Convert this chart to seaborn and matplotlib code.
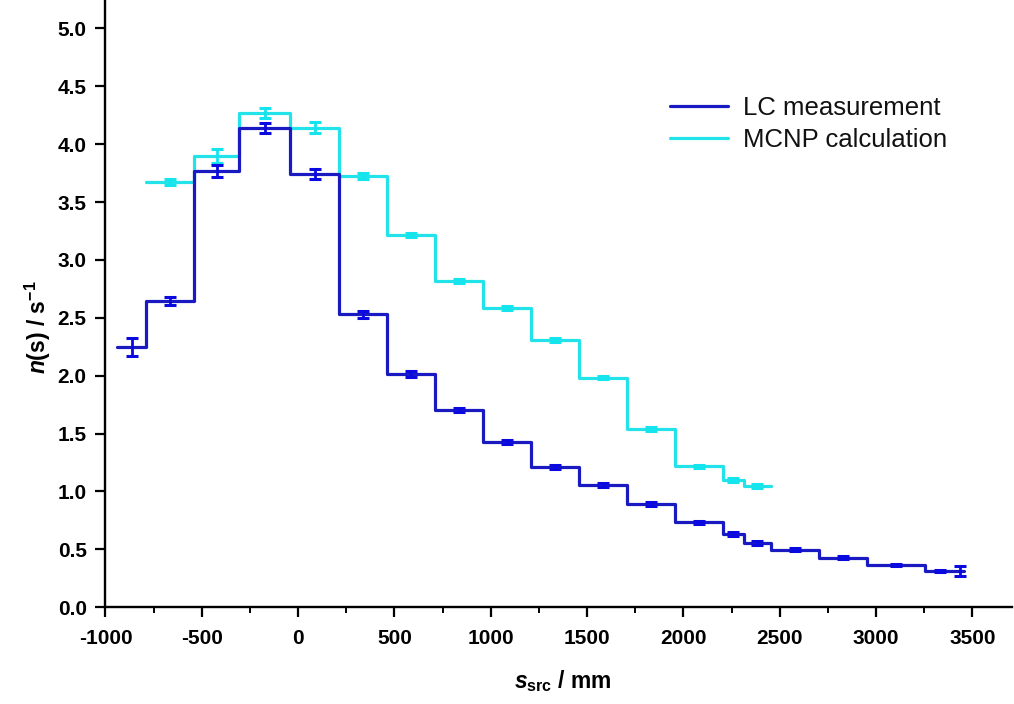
import numpy as np
import pandas as pd
import matplotlib
matplotlib.use("Agg")
import matplotlib.pyplot as plt
from matplotlib.ticker import MultipleLocator, FormatStrFormatter
import seaborn as sns

# ---- data ----
lc_edges = [-938, -788, -540, -307, -40, 210, 459, 710, 962, 1207, 1458,
            1706, 1956, 2204, 2313, 2455, 2706, 2952, 3252, 3414, 3458]
lc_values = [2.25, 2.648, 3.77, 4.136, 3.739, 2.53, 2.015, 1.704, 1.43, 1.214,
             1.056, 0.892, 0.734, 0.633, 0.558, 0.495, 0.428, 0.363, 0.313, 0.31]
lc_err = [0.08, 0.033, 0.053, 0.043, 0.043, 0.03, 0.025, 0.02, 0.018, 0.016,
          0.015, 0.014, 0.013, 0.02, 0.017, 0.013, 0.012, 0.01, 0.012, 0.043]

mcnp_edges = [-788, -540, -307, -40, 210, 459, 710, 962, 1207, 1458, 1706,
              1956, 2204, 2313, 2455]
mcnp_values = [3.675, 3.897, 4.271, 4.142, 3.725, 3.215, 2.818, 2.582, 2.308,
               1.983, 1.54, 1.22, 1.099, 1.05]
mcnp_err = [0.026, 0.06, 0.043, 0.046, 0.03, 0.02, 0.02, 0.018, 0.016, 0.015,
            0.014, 0.013, 0.02, 0.017]

series_names = ["LC measurement", "MCNP calculation"]
x_ticks = [-1000, -500, 0, 500, 1000, 1500, 2000, 2500, 3000, 3500]
y_ticks = [0.0, 0.5, 1.0, 1.5, 2.0, 2.5, 3.0, 3.5, 4.0, 4.5, 5.0]

# ---- style ----
sns.set_theme(style="ticks")
plt.rcParams["font.family"] = ["Liberation Sans", "DejaVu Sans"]
plt.rcParams["axes.unicode_minus"] = False
plt.rcParams["text.color"] = "black"
plt.rcParams["axes.labelcolor"] = "black"
plt.rcParams["xtick.color"] = "black"
plt.rcParams["ytick.color"] = "black"
plt.rcParams["mathtext.fontset"] = "custom"
plt.rcParams["mathtext.rm"] = "Liberation Sans:bold"
plt.rcParams["mathtext.bf"] = "Liberation Sans:bold"
plt.rcParams["mathtext.it"] = "Liberation Sans:italic:bold"

LC_LINE = "#1a1ac2"
LC_ERR = "#0a0ae0"
MC_LINE = "#22e3ea"
MC_ERR = "#14e4ee"

fig = plt.figure(figsize=(10.14, 7.04), dpi=100)
ax = fig.add_axes([0.104, 0.1374, 0.894, 0.8626])


def step_frame(edges, values):
    return pd.DataFrame({"x": edges, "y": list(values) + [values[-1]]})


lc_df = step_frame(lc_edges, lc_values)
mc_df = step_frame(mcnp_edges, mcnp_values)

sns.lineplot(data=mc_df, x="x", y="y", ax=ax, sort=False, estimator=None,
             drawstyle="steps-post", color=MC_LINE, linewidth=2.3,
             label=series_names[1], zorder=2)
sns.lineplot(data=lc_df, x="x", y="y", ax=ax, sort=False, estimator=None,
             drawstyle="steps-post", color=LC_LINE, linewidth=2.3,
             label=series_names[0], zorder=3)

lc_c = (np.array(lc_edges[:-1]) + np.array(lc_edges[1:])) / 2
mc_c = (np.array(mcnp_edges[:-1]) + np.array(mcnp_edges[1:])) / 2
ax.errorbar(mc_c, mcnp_values, yerr=mcnp_err, fmt="none", ecolor=MC_ERR,
            elinewidth=2.0, capsize=4.3, capthick=2.2, zorder=2.5)
ax.errorbar(lc_c, lc_values, yerr=lc_err, fmt="none", ecolor=LC_ERR,
            elinewidth=2.0, capsize=4.3, capthick=2.2, zorder=3.5)

# ---- axes ----
ax.set_xlim(-1000, 3705)
ax.set_ylim(0, 5.245)
ax.set_xticks(x_ticks)
ax.set_yticks(y_ticks)
ax.xaxis.set_minor_locator(MultipleLocator(250))
ax.yaxis.set_major_formatter(FormatStrFormatter("%.1f"))
sns.despine(ax=ax)
for s in ("left", "bottom"):
    ax.spines[s].set_linewidth(1.7)
    ax.spines[s].set_color("black")
ax.tick_params(axis="both", which="major", direction="out", length=7.5,
               width=1.6, color="black", labelcolor="black", labelsize=15)
ax.tick_params(axis="x", which="major", pad=8)
ax.tick_params(axis="y", which="major", pad=6)
ax.tick_params(axis="x", which="minor", direction="out", length=4.2,
               width=1.4, color="black")
for lab in ax.get_xticklabels() + ax.get_yticklabels():
    lab.set_fontweight("bold")

ax.set_xlabel(r"$s_{\mathrm{src}}$ / mm", fontsize=16.5, fontweight="bold",
              color="black")
ax.set_ylabel(r"$n$(s) / s$^{-1}$", fontsize=16.5, fontweight="bold",
              color="black")
ax.xaxis.set_label_coords(0.505, -0.122)
ax.yaxis.set_label_coords(-0.075, 0.4615)
ax.xaxis.label.set_va("center")
ax.yaxis.label.set_va("center")

handles, labels = ax.get_legend_handles_labels()
order = [labels.index(n) for n in series_names]
leg = ax.legend([handles[i] for i in order], [labels[i] for i in order],
                loc="upper left", bbox_to_anchor=(0.661, 0.863),
                bbox_transform=fig.transFigure, frameon=False, fontsize=18.5,
                handlelength=2.25, handletextpad=0.6, labelspacing=0.28,
                borderpad=0, borderaxespad=0)
for t in leg.get_texts():
    t.set_color("#111111")
for h in leg.get_lines():
    h.set_linewidth(2.3)

fig.savefig("out.png", dpi=100)
